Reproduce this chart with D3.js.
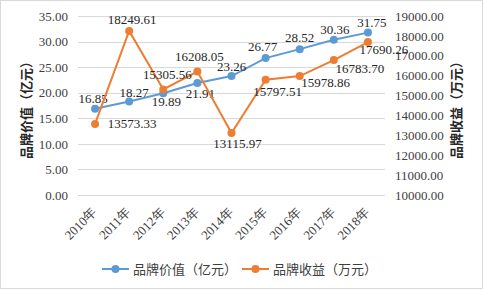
<!DOCTYPE html>
<html>
<head>
<meta charset="utf-8">
<script src="https://cdn.jsdelivr.net/npm/d3@7"></script>
<style>
  body { margin: 0; background: #fff; }
  svg { display: block; }
</style>
</head>
<body>
<div id="chart"></div>
<script>
var W = 484, H = 290;

// data
var years = ["2010年", "2011年", "2012年", "2013年", "2014年", "2015年", "2016年", "2017年", "2018年"];
var brandValue = [16.85, 18.27, 19.89, 21.91, 23.26, 26.77, 28.52, 30.36, 31.75];
var brandIncome = [13573.33, 18249.61, 15305.56, 16208.05, 13115.97, 15797.51, 15978.86, 16783.70, 17690.26];
var leftTicks = [0, 5, 10, 15, 20, 25, 30, 35];
var rightTicks = [10000, 11000, 12000, 13000, 14000, 15000, 16000, 17000, 18000, 19000];

// where each data label sits relative to its point (dx, dy to baseline)
var valueLabelOff = [[-2, -6], [5, -5], [3, 13], [3, 15], [0, -5], [-3, -7], [0, -7], [1, -6], [4, -6]];
var incomeLabelOff = [[37, 4], [3, -7], [4, -10], [2, -11], [6, 15], [12, 16], [26, 11], [26, 13], [16, 12]];

var blue = "#5b9bd5", orange = "#ed7d31";
var numFont = "'Liberation Serif', 'Times New Roman', serif";
var cjkFont = "'Noto Sans CJK SC', sans-serif";

var svg = d3.select("#chart").append("svg")
  .attr("width", W)
  .attr("height", H);

svg.append("rect")
  .attr("x", 0.5).attr("y", 0.5)
  .attr("width", W - 2).attr("height", H - 2)
  .attr("fill", "#fff")
  .attr("stroke", "#d9d9d9");

var x = d3.scalePoint().domain(years).range([78, 385]).padding(0.5);
var yL = d3.scaleLinear().domain([0, 35]).range([195, 16]);
var yR = d3.scaleLinear().domain([10000, 19000]).range([195, 16]);

// gridlines
svg.append("g")
  .selectAll("line")
  .data(leftTicks)
  .join("line")
    .attr("x1", 78).attr("x2", 385)
    .attr("y1", function(d) { return Math.round(yL(d)) + 0.5; })
    .attr("y2", function(d) { return Math.round(yL(d)) + 0.5; })
    .attr("stroke", "#d9d9d9")
    .attr("stroke-width", 1);

// left axis
var axL = svg.append("g")
  .attr("transform", "translate(70,0)")
  .call(d3.axisLeft(yL).tickValues(leftTicks).tickFormat(d3.format(".2f")).tickSize(0).tickPadding(2));
axL.select(".domain").remove();
axL.selectAll("text")
  .attr("font-family", numFont)
  .attr("font-size", 13)
  .attr("fill", "#404040");

// right axis
var axR = svg.append("g")
  .attr("transform", "translate(393,0)")
  .call(d3.axisRight(yR).tickValues(rightTicks).tickFormat(d3.format(".2f")).tickSize(0).tickPadding(2));
axR.select(".domain").remove();
axR.selectAll("text")
  .attr("font-family", numFont)
  .attr("font-size", 13)
  .attr("fill", "#404040");

// x axis labels, rotated
var axX = svg.append("g")
  .attr("transform", "translate(0,195)")
  .call(d3.axisBottom(x).tickSize(0).tickPadding(0));
axX.select(".domain").remove();
axX.selectAll("text")
  .attr("font-family", numFont)
  .attr("font-size", 13)
  .attr("fill", "#404040")
  .attr("text-anchor", "end")
  .attr("dy", 0)
  .attr("transform", "translate(2,18) rotate(-45)");

// axis titles
svg.append("text")
  .attr("transform", "translate(31,107) rotate(-90)")
  .attr("text-anchor", "middle")
  .attr("font-family", cjkFont)
  .attr("font-weight", "bold")
  .attr("font-size", 13)
  .attr("fill", "#262626")
  .text("品牌价值（亿元）");

svg.append("text")
  .attr("transform", "translate(461,107) rotate(-90)")
  .attr("text-anchor", "middle")
  .attr("font-family", cjkFont)
  .attr("font-weight", "bold")
  .attr("font-size", 13)
  .attr("fill", "#262626")
  .text("品牌收益（万元）");

function drawSeries(values, y, color, offs) {
  var line = d3.line()
    .x(function(d, i) { return x(years[i]); })
    .y(function(d) { return y(d); });
  svg.append("path")
    .datum(values)
    .attr("fill", "none")
    .attr("stroke", color)
    .attr("stroke-width", 2)
    .attr("d", line);
  svg.append("g")
    .selectAll("circle")
    .data(values)
    .join("circle")
      .attr("cx", function(d, i) { return x(years[i]); })
      .attr("cy", function(d) { return y(d); })
      .attr("r", 4)
      .attr("fill", color);
  svg.append("g")
    .selectAll("text")
    .data(values)
    .join("text")
      .attr("x", function(d, i) { return x(years[i]) + offs[i][0]; })
      .attr("y", function(d, i) { return y(d) + offs[i][1]; })
      .attr("text-anchor", "middle")
      .attr("font-family", numFont)
      .attr("font-size", 13)
      .attr("fill", "#262626")
      .text(function(d) { return d3.format(".2f")(d); });
}

drawSeries(brandValue, yL, blue, valueLabelOff);
drawSeries(brandIncome, yR, orange, incomeLabelOff);

// legend
var legend = [
  { name: "品牌价值（亿元）", color: blue, x: 102 },
  { name: "品牌收益（万元）", color: orange, x: 242 }
];
var lg = svg.append("g")
  .selectAll("g")
  .data(legend)
  .join("g")
    .attr("transform", function(d) { return "translate(" + d.x + ",269)"; });
lg.append("line")
  .attr("x1", 0).attr("x2", 27)
  .attr("stroke", function(d) { return d.color; })
  .attr("stroke-width", 2);
lg.append("circle")
  .attr("cx", 13.5).attr("r", 4)
  .attr("fill", function(d) { return d.color; });
lg.append("text")
  .attr("x", 31)
  .attr("dy", "0.36em")
  .attr("font-family", cjkFont)
  .attr("font-size", 13)
  .attr("fill", "#404040")
  .text(function(d) { return d.name; });
</script>
</body>
</html>
